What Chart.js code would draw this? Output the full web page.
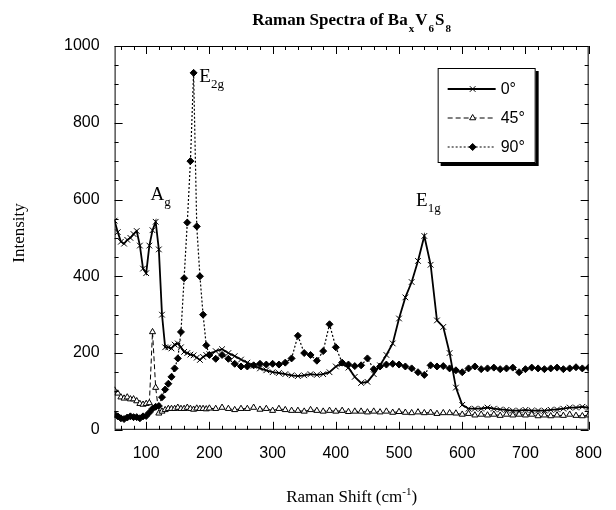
<!DOCTYPE html>
<html>
<head>
<meta charset="utf-8">
<script src="https://cdn.jsdelivr.net/npm/chart.js@4/dist/chart.umd.min.js"></script>
<style>
  html, body { margin: 0; padding: 0; background: #fff; }
</style>
</head>
<body>
<canvas id="raman" width="616" height="510"></canvas>
<script>
// Raman shift (cm-1), finer steps around the low-frequency peaks
const shift = [50, 55, 60, 65, 70, 75, 80, 85, 90, 95, 100, 105, 110, 115, 120, 125, 130, 135, 140, 145,
  150, 155, 160, 165, 170, 175, 180, 185, 190, 195, 200,
  210, 220, 230, 240, 250, 260, 270, 280, 290, 300, 310, 320, 330, 340, 350, 360, 370, 380, 390, 400,
  410, 420, 430, 440, 450, 460, 470, 480, 490, 500, 510, 520, 530, 540, 550, 560, 570, 580, 590, 600,
  610, 620, 630, 640, 650, 660, 670, 680, 690, 700, 710, 720, 730, 740, 750, 760, 770, 780, 790, 800]

const deg0 = [545, 515, 490, 485, 495, 500, 510, 518, 480, 420, 408, 480, 520, 542, 470, 300, 215, 215, 212, 222,
  225, 215, 203, 200, 196, 194, 188, 182, 190, 195, 197,
  205, 210, 200, 192, 183, 175, 167, 160, 155, 150, 148, 145, 142, 140, 142, 145, 143, 145, 150, 165,
  172, 162, 138, 122, 125, 145, 168, 195, 225, 290, 345, 385, 440, 505, 430, 285, 268, 200, 110, 65,
  55, 55, 55, 58, 55, 53, 52, 50, 50, 52, 50, 50, 50, 52, 53, 55, 58, 58, 60, 57]

const deg45 = [103, 95, 85, 82, 85, 80, 80, 75, 68, 66, 68, 70, 255, 110, 43, 48, 52, 55, 55, 55,
  58, 55, 55, 58, 55, 53, 56, 55, 55, 54, 56,
  55, 58, 55, 52, 55, 55, 58, 53, 55, 50, 55, 52, 50, 50, 48, 52, 50, 48, 50, 48,
  50, 47, 48, 48, 46, 48, 46, 48, 45, 47, 45, 44, 46, 44, 45, 42, 44, 44, 43, 40,
  42, 38, 40, 38, 40, 37, 40, 38, 40, 38, 40, 36, 38, 36, 38, 37, 40, 37, 36, 38]

const deg90 = [40, 35, 30, 28, 32, 35, 33, 33, 30, 35, 36, 45, 55, 60, 62, 85, 105, 120, 138, 160,
  186, 255, 395, 540, 700, 930, 530, 400, 300, 220, 195,
  185, 195, 185, 172, 165, 165, 168, 172, 170, 172, 170, 175, 186, 245, 200, 195, 180, 205, 275, 215,
  175, 170, 166, 168, 186, 158, 165, 170, 172, 170, 165, 160, 150, 143, 168, 165, 166, 160, 155, 150,
  160, 165, 158, 160, 162, 158, 160, 162, 150, 158, 162, 160, 158, 160, 162, 158, 160, 163, 160, 162]

const peakBase = ['A', 'E', 'E']
const peakSub = ['g', '2g', '1g']
const peakX = [107, 184, 527]
const peakY = [600, 907, 583]

const serif = '"Liberation Serif", "Times New Roman", serif'
const sans = '"Liberation Sans", Arial, sans-serif'

function pts(ys) {
  return shift.map((x, i) => ({ x: x, y: ys[i] }))
}

// text with sub/superscript runs
function drawRuns(ctx, runs, x, y, align) {
  let w = 0
  runs.forEach(r => { ctx.font = r.font; w += ctx.measureText(r.t).width + (r.gap || 0) })
  let cx = align === 'center' ? x - w / 2 : x
  ctx.textAlign = 'left'
  ctx.textBaseline = 'alphabetic'
  runs.forEach(r => {
    ctx.font = r.font
    ctx.fillText(r.t, cx, y + (r.dy || 0))
    cx += ctx.measureText(r.t).width + (r.gap || 0)
  })
}

const decor = {
  id: 'decor',
  afterDatasetsDraw(chart) {
    const ctx = chart.ctx
    const a = chart.chartArea
    const xs = chart.scales.x, ys = chart.scales.y
    ctx.save()
    ctx.strokeStyle = '#000'
    ctx.fillStyle = '#000'
    ctx.lineWidth = 1

    // frame
    ctx.strokeRect(a.left + 0.5, a.top + 0.5, a.right - a.left - 1, a.bottom - a.top - 1)

    // inward ticks on all four sides
    ctx.beginPath()
    for (let v = 60; v <= 800; v += 20) {
      const p = Math.round(xs.getPixelForValue(v)) + 0.5
      const len = v % 100 === 0 ? 8 : 4
      ctx.moveTo(p, a.bottom); ctx.lineTo(p, a.bottom - len)
      ctx.moveTo(p, a.top); ctx.lineTo(p, a.top + len)
    }
    for (let v = 0; v <= 1000; v += 50) {
      const p = Math.round(ys.getPixelForValue(v)) + 0.5
      const len = v % 200 === 0 ? 8 : 4
      ctx.moveTo(a.left, p); ctx.lineTo(a.left + len, p)
      ctx.moveTo(a.right, p); ctx.lineTo(a.right - len, p)
    }
    ctx.stroke()

    // peak labels
    peakBase.forEach((b, i) => {
      drawRuns(ctx, [
        { t: b, font: '19px ' + serif },
        { t: peakSub[i], font: '13px ' + serif, dy: 6 }
      ], xs.getPixelForValue(peakX[i]), ys.getPixelForValue(peakY[i]), 'left')
    })

    // legend box
    const lx = a.right - 151, ly = a.top + 22, lw = 98, lh = 95
    ctx.fillStyle = '#000'
    ctx.fillRect(lx + 3, ly + 3, lw, lh)
    ctx.fillStyle = '#fff'
    ctx.fillRect(lx, ly, lw, lh)
    ctx.strokeRect(lx + 0.5, ly + 0.5, lw - 1, lh - 1)
    chart.data.datasets.forEach((ds, i) => {
      const ry = ly + 21 + i * 29
      ctx.save()
      ctx.strokeStyle = '#000'
      ctx.lineWidth = ds.borderWidth
      ctx.setLineDash(ds.borderDash || [])
      ctx.beginPath()
      ctx.moveTo(lx + 10, ry); ctx.lineTo(lx + 58, ry)
      ctx.stroke()
      ctx.restore()
      ctx.save()
      ctx.fillStyle = ds.backgroundColor
      ctx.strokeStyle = '#000'
      ctx.lineWidth = 1
      Chart.helpers.drawPoint(ctx, {
        pointStyle: ds.pointStyle, radius: ds.pointRadius, rotation: 0,
        borderWidth: 1
      }, lx + 35, ry)
      ctx.restore()
      ctx.fillStyle = '#000'
      ctx.font = '16px ' + sans
      ctx.textAlign = 'left'
      ctx.textBaseline = 'middle'
      ctx.fillText(ds.label, lx + 63, ry + 1)
    })

    // title
    ctx.fillStyle = '#000'
    const cx = (a.left + a.right) / 2
    drawRuns(ctx, [
      { t: 'Raman Spectra of Ba', font: 'bold 17px ' + serif, gap: 1 },
      { t: 'x', font: 'bold 11px ' + serif, dy: 7, gap: 1 },
      { t: 'V', font: 'bold 17px ' + serif, gap: 1 },
      { t: '6', font: 'bold 11px ' + serif, dy: 7, gap: 1 },
      { t: 'S', font: 'bold 17px ' + serif, gap: 1 },
      { t: '8', font: 'bold 11px ' + serif, dy: 7 }
    ], cx, 25, 'center')

    // axis titles
    drawRuns(ctx, [
      { t: 'Raman Shift (cm', font: '17px ' + serif },
      { t: '-1', font: '11px ' + serif, dy: -7 },
      { t: ')', font: '17px ' + serif }
    ], cx, 502, 'center')
    ctx.translate(24, 233)
    ctx.rotate(-Math.PI / 2)
    drawRuns(ctx, [{ t: 'Intensity', font: '17px ' + serif }], 0, 0, 'center')
    ctx.restore()
  }
}

new Chart(document.getElementById('raman'), {
  type: 'line',
  data: {
    datasets: [
      {
        label: '0°',
        data: pts(deg0),
        borderColor: '#000',
        backgroundColor: '#000',
        borderWidth: 1.8,
        pointStyle: 'crossRot',
        pointRadius: 4,
        pointBorderWidth: 1,
        tension: 0
      },
      {
        label: '45°',
        data: pts(deg45),
        borderColor: '#000',
        backgroundColor: '#fff',
        borderWidth: 1,
        borderDash: [5, 3],
        pointStyle: 'triangle',
        pointRadius: 3.5,
        pointBorderWidth: 1,
        tension: 0
      },
      {
        label: '90°',
        data: pts(deg90),
        borderColor: '#000',
        backgroundColor: '#000',
        borderWidth: 1.2,
        borderDash: [2, 2],
        pointStyle: 'rectRot',
        pointRadius: 3.5,
        pointBorderWidth: 1,
        tension: 0
      }
    ]
  },
  options: {
    responsive: false,
    animation: false,
    devicePixelRatio: 1,
    layout: { padding: { left: 49, right: 13, top: 46, bottom: 33 } },
    scales: {
      x: {
        type: 'linear', min: 50, max: 800,
        grid: { display: false, drawTicks: false },
        border: { display: false },
        ticks: { stepSize: 100, includeBounds: false, color: '#000', padding: 14, maxRotation: 0,
          font: { family: sans, size: 16 }, callback: v => String(v) }
      },
      y: {
        min: 0, max: 1000,
        grid: { display: false, drawTicks: false },
        border: { display: false },
        ticks: { stepSize: 200, color: '#000', padding: 15,
          font: { family: sans, size: 16 }, callback: v => String(v) }
      }
    },
    plugins: {
      legend: { display: false },
      title: { display: false },
      tooltip: { enabled: false }
    }
  },
  plugins: [decor]
})
</script>
</body>
</html>
